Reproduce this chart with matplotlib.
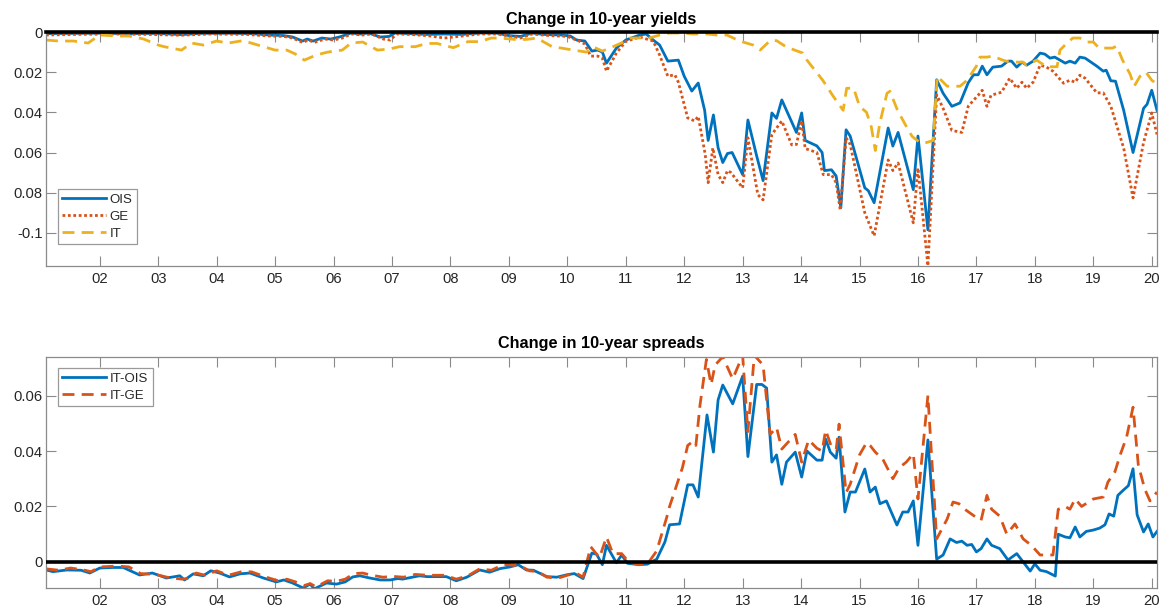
import matplotlib
matplotlib.use('Agg')
import matplotlib.pyplot as plt

plt.rcParams['font.family'] = ['Liberation Sans', 'DejaVu Sans']

# ---------------- data (decimal years, values) ----------------
ois_t = [2001.08, 2001.5, 2002.0, 2002.5, 2003.0, 2003.4, 2003.7, 2004.2, 2004.6, 2004.9,
         2005.15, 2005.3, 2005.47, 2005.55, 2005.65, 2005.8, 2005.95, 2006.1, 2006.3, 2006.45,
         2006.6, 2006.8, 2006.95, 2007.05, 2007.3, 2007.6, 2007.9, 2008.2, 2008.5, 2008.8,
         2009.0, 2009.2, 2009.4, 2009.6, 2009.9, 2010.05, 2010.16, 2010.3, 2010.42, 2010.52,
         2010.6, 2010.67, 2010.84, 2011.0, 2011.24, 2011.35, 2011.47, 2011.58, 2011.72, 2011.9,
         2012.0, 2012.13, 2012.24, 2012.35, 2012.41, 2012.5, 2012.58, 2012.66, 2012.74, 2012.82,
         2013.0, 2013.09, 2013.24, 2013.35, 2013.5, 2013.58, 2013.67, 2013.92, 2014.01, 2014.07,
         2014.27, 2014.36, 2014.4, 2014.52, 2014.6, 2014.68, 2014.77, 2014.84, 2015.09, 2015.15,
         2015.25, 2015.49, 2015.57, 2015.66, 2015.92, 2016.0, 2016.17, 2016.32, 2016.43, 2016.58,
         2016.72, 2016.86, 2016.95, 2017.03, 2017.1, 2017.18, 2017.28, 2017.43, 2017.54, 2017.6,
         2017.69, 2017.78, 2017.86, 2017.97, 2018.09, 2018.17, 2018.26, 2018.34, 2018.52, 2018.6,
         2018.69, 2018.77, 2018.86, 2019.06, 2019.17, 2019.22, 2019.3, 2019.38, 2019.52, 2019.68,
         2019.86, 2019.92, 2020.0, 2020.09]
ois_v = [-0.0008, -0.0007, -0.0006, -0.0008, -0.0007, -0.0013, -0.0007, -0.0006, -0.0008, -0.0015,
         -0.0018, -0.0025, -0.0045, -0.0035, -0.0045, -0.003, -0.0035, -0.0025, -0.0005, -0.001,
         -0.0005, -0.0025, -0.0022, -0.0005, -0.0008, -0.0012, -0.001, -0.0012, -0.0005, -0.0006,
         -0.0018, -0.0022, -0.0005, -0.0012, -0.0015, -0.002, -0.004, -0.0045, -0.0095, -0.009,
         -0.010, -0.0155, -0.008, -0.004, -0.0015, -0.001, -0.004, -0.0065, -0.0145, -0.014,
         -0.022, -0.0294, -0.0254, -0.039, -0.054, -0.0413, -0.0576, -0.065, -0.0605, -0.060,
         -0.071, -0.0438, -0.0617, -0.074, -0.0403, -0.043, -0.0338, -0.050, -0.0403, -0.054,
         -0.0567, -0.060, -0.069, -0.0686, -0.0717, -0.0875, -0.0487, -0.0518, -0.0776, -0.079,
         -0.085, -0.0478, -0.0568, -0.050, -0.0785, -0.0518, -0.0985, -0.0238, -0.0305, -0.037,
         -0.0353, -0.0253, -0.0213, -0.0213, -0.017, -0.0213, -0.0175, -0.017, -0.0145, -0.0145,
         -0.0175, -0.015, -0.0165, -0.0145, -0.0105, -0.011, -0.013, -0.0125, -0.0155, -0.0145,
         -0.0155, -0.0125, -0.013, -0.017, -0.0195, -0.019, -0.0243, -0.0245, -0.039, -0.060,
         -0.038, -0.036, -0.029, -0.039]

ge_t = [2001.08, 2001.6, 2002.2, 2002.8, 2003.4, 2003.9, 2004.5, 2004.9, 2005.15, 2005.3,
        2005.47, 2005.57, 2005.67, 2005.85, 2006.0, 2006.15, 2006.3, 2006.5, 2006.65, 2006.85,
        2006.97, 2007.08, 2007.3, 2007.6, 2007.9, 2008.2, 2008.5, 2008.8, 2009.0, 2009.2,
        2009.4, 2009.7, 2010.0, 2010.2, 2010.3, 2010.4, 2010.52, 2010.6, 2010.67, 2010.84,
        2011.0, 2011.24, 2011.47, 2011.58, 2011.72, 2011.84, 2011.9, 2012.06, 2012.18, 2012.24,
        2012.36, 2012.41, 2012.49, 2012.58, 2012.66, 2012.74, 2012.8, 2013.0, 2013.09, 2013.26,
        2013.35, 2013.5, 2013.67, 2013.84, 2013.92, 2014.01, 2014.07, 2014.27, 2014.38, 2014.52,
        2014.6, 2014.67, 2014.77, 2014.84, 2015.09, 2015.25, 2015.49, 2015.57, 2015.66, 2015.92,
        2016.0, 2016.17, 2016.32, 2016.43, 2016.58, 2016.75, 2016.86, 2016.95, 2017.03, 2017.1,
        2017.18, 2017.25, 2017.43, 2017.57, 2017.69, 2017.78, 2017.86, 2017.97, 2018.09, 2018.2,
        2018.31, 2018.49, 2018.6, 2018.69, 2018.77, 2018.86, 2019.06, 2019.17, 2019.3, 2019.52,
        2019.68, 2019.86, 2020.0, 2020.09]
ge_v = [-0.0015, -0.0012, -0.001, -0.0012, -0.0016, -0.001, -0.0012, -0.002, -0.0022, -0.003,
        -0.0052, -0.004, -0.0052, -0.0035, -0.004, -0.003, -0.001, -0.0015, -0.001, -0.0035,
        -0.004, -0.001, -0.0012, -0.0018, -0.003, -0.002, -0.001, -0.001, -0.002, -0.003,
        -0.001, -0.0018, -0.0022, -0.0045, -0.006, -0.012, -0.012, -0.013, -0.0195, -0.0105,
        -0.0047, -0.0025, -0.0045, -0.0115, -0.022, -0.0213, -0.025, -0.0428, -0.0443, -0.042,
        -0.061, -0.075, -0.0577, -0.071, -0.075, -0.069, -0.070, -0.0776, -0.0527, -0.081,
        -0.0836, -0.051, -0.0443, -0.0562, -0.056, -0.0443, -0.058, -0.060, -0.071, -0.071,
        -0.075, -0.0886, -0.0527, -0.056, -0.090, -0.1015, -0.0637, -0.069, -0.0652, -0.095,
        -0.0677, -0.1164, -0.0313, -0.038, -0.049, -0.050, -0.037, -0.034, -0.0315, -0.029,
        -0.037, -0.0315, -0.030, -0.023, -0.028, -0.025, -0.028, -0.025, -0.0165, -0.0175,
        -0.0195, -0.0255, -0.024, -0.025, -0.0215, -0.023, -0.0303, -0.0303, -0.037, -0.0578,
        -0.0826, -0.055, -0.0403, -0.051]

it_t = [2001.08, 2001.3, 2001.55, 2001.8, 2002.0, 2002.3, 2002.5, 2002.75, 2003.0, 2003.1,
        2003.4, 2003.57, 2003.77, 2004.0, 2004.2, 2004.45, 2004.8, 2005.0, 2005.2, 2005.35,
        2005.5, 2005.7, 2005.9, 2006.15, 2006.3, 2006.5, 2006.75, 2006.95, 2007.13, 2007.4,
        2007.6, 2007.77, 2007.94, 2008.05, 2008.3, 2008.5, 2008.7, 2008.85, 2009.1, 2009.3,
        2009.48, 2009.75, 2009.9, 2010.1, 2010.33, 2010.45, 2010.6, 2010.73, 2011.0, 2011.07,
        2011.4, 2011.58, 2011.75, 2011.98, 2012.15, 2012.4, 2012.55, 2012.73, 2012.95, 2013.18,
        2013.3, 2013.47, 2013.58, 2013.75, 2014.03, 2014.1, 2014.37, 2014.55, 2014.72, 2014.78,
        2014.9, 2015.0, 2015.12, 2015.2, 2015.27, 2015.35, 2015.47, 2015.52, 2015.65, 2015.8,
        2015.9, 2016.03, 2016.15, 2016.26, 2016.33, 2016.5, 2016.72, 2016.84, 2017.0, 2017.06,
        2017.18, 2017.28, 2017.45, 2017.57, 2017.8, 2017.86, 2018.03, 2018.2, 2018.38, 2018.43,
        2018.55, 2018.65, 2018.77, 2018.9, 2019.0, 2019.1, 2019.33, 2019.4, 2019.5, 2019.63,
        2019.7, 2019.8, 2019.9, 2020.0, 2020.09]
it_v = [-0.004, -0.0045, -0.0045, -0.0055, -0.0015, -0.002, -0.002, -0.0035, -0.0065, -0.0073,
        -0.009, -0.0055, -0.0065, -0.0045, -0.0055, -0.0043, -0.0073, -0.009, -0.009, -0.011,
        -0.014, -0.0115, -0.010, -0.009, -0.0055, -0.005, -0.009, -0.0085, -0.0073, -0.0073,
        -0.0057, -0.0057, -0.007, -0.0078, -0.0048, -0.0048, -0.003, -0.003, -0.0037, -0.0037,
        -0.003, -0.0075, -0.008, -0.009, -0.010, -0.0075, -0.0095, -0.008, -0.0045, -0.003,
        -0.003, -0.0015, -0.0005, -0.0005, -0.001, -0.001, -0.0015, -0.0015, -0.0045, -0.0065,
        -0.009, -0.0043, -0.0043, -0.0075, -0.0105, -0.014, -0.024, -0.032, -0.039, -0.028,
        -0.028, -0.037, -0.040, -0.047, -0.059, -0.045, -0.0305, -0.0295, -0.039, -0.047,
        -0.052, -0.055, -0.055, -0.054, -0.022, -0.027, -0.027, -0.024, -0.017, -0.0125,
        -0.0125, -0.012, -0.014, -0.015, -0.015, -0.0165, -0.014, -0.0173, -0.0173, -0.009,
        -0.0055, -0.003, -0.003, -0.005, -0.005, -0.008, -0.008, -0.007, -0.014, -0.021,
        -0.027, -0.022, -0.020, -0.024, -0.026]

itois_t = [2001.08, 2001.2, 2001.44, 2001.68, 2001.83, 2002.0, 2002.22, 2002.4, 2002.68, 2002.9,
           2003.14, 2003.37, 2003.45, 2003.6, 2003.77, 2003.9, 2004.05, 2004.22, 2004.4, 2004.57,
           2004.8, 2005.02, 2005.15, 2005.3, 2005.48, 2005.6, 2005.67, 2005.88, 2006.05, 2006.2,
           2006.33, 2006.45, 2006.62, 2006.8, 2006.97, 2007.1, 2007.18, 2007.47, 2007.6, 2007.93,
           2008.1, 2008.28, 2008.5, 2008.67, 2008.85, 2009.02, 2009.16, 2009.3, 2009.42, 2009.65,
           2009.82, 2010.0, 2010.12, 2010.27, 2010.42, 2010.5, 2010.6, 2010.67, 2010.84, 2010.93,
           2011.03, 2011.23, 2011.37, 2011.53, 2011.67, 2011.75, 2011.92, 2012.06, 2012.15, 2012.24,
           2012.39, 2012.5, 2012.58, 2012.66, 2012.83, 2013.0, 2013.09, 2013.24, 2013.33, 2013.41,
           2013.5, 2013.58, 2013.67, 2013.75, 2013.9, 2014.01, 2014.1, 2014.27, 2014.36, 2014.42,
           2014.5, 2014.6, 2014.65, 2014.75, 2014.84, 2014.93, 2015.09, 2015.18, 2015.27, 2015.35,
           2015.46, 2015.64, 2015.74, 2015.83, 2015.92, 2016.0, 2016.17, 2016.32, 2016.43, 2016.55,
           2016.66, 2016.75, 2016.84, 2016.92, 2017.0, 2017.08, 2017.18, 2017.26, 2017.4, 2017.54,
           2017.69, 2017.8, 2017.92, 2018.0, 2018.09, 2018.2, 2018.35, 2018.4, 2018.52, 2018.6,
           2018.69, 2018.77, 2018.88, 2019.0, 2019.11, 2019.2, 2019.27, 2019.35, 2019.42, 2019.52,
           2019.6, 2019.68, 2019.75, 2019.86, 2019.94, 2020.02, 2020.09]
itois_v = [-0.0029, -0.0035, -0.0029, -0.003, -0.004, -0.0022, -0.002, -0.002, -0.0047, -0.004,
           -0.0058, -0.005, -0.0065, -0.0043, -0.005, -0.0032, -0.004, -0.0054, -0.0043, -0.004,
           -0.0058, -0.0072, -0.0065, -0.0076, -0.0094, -0.008, -0.0097, -0.0076, -0.008, -0.0072,
           -0.0054, -0.005, -0.0058, -0.0065, -0.0065, -0.006, -0.0062, -0.005, -0.0053, -0.0053,
           -0.0068, -0.0055, -0.0029, -0.0037, -0.0024, -0.0018, -0.001, -0.0029, -0.003, -0.0053,
           -0.0055, -0.0046, -0.0042, -0.006, 0.0032, 0.0028, -0.001, 0.006, -0.0003, 0.0025,
           -0.0005, -0.001, -0.0008, 0.001, 0.0072, 0.0134, 0.0137, 0.0278, 0.0278, 0.0234,
           0.053, 0.0396, 0.0584, 0.0638, 0.057, 0.067, 0.038, 0.064, 0.064, 0.0627,
           0.036, 0.0386, 0.028, 0.036, 0.0396, 0.0306, 0.040, 0.0367, 0.0367, 0.0443,
           0.0396, 0.0374, 0.045, 0.018, 0.0252, 0.0252, 0.0335, 0.0252, 0.027, 0.021,
           0.022, 0.0133, 0.018, 0.018, 0.022, 0.006, 0.044, 0.001, 0.0025, 0.0083,
           0.007, 0.0075, 0.006, 0.0063, 0.0036, 0.0048, 0.0083, 0.006, 0.0048, 0.0007,
           0.003, 0.0, -0.0033, -0.0007, -0.003, -0.0035, -0.0051, 0.010, 0.009, 0.0087,
           0.0126, 0.009, 0.011, 0.0115, 0.0122, 0.0134, 0.0173, 0.0165, 0.024, 0.026,
           0.0275, 0.0336, 0.017, 0.0108, 0.0137, 0.009, 0.011]

itge_t = [2001.08, 2001.3, 2001.5, 2001.7, 2001.85, 2002.0, 2002.3, 2002.5, 2002.7, 2002.95,
          2003.15, 2003.4, 2003.5, 2003.65, 2003.8, 2004.0, 2004.2, 2004.45, 2004.6, 2004.85,
          2005.05, 2005.2, 2005.35, 2005.5, 2005.6, 2005.7, 2005.9, 2006.05, 2006.2, 2006.35,
          2006.5, 2006.65, 2006.85, 2007.0, 2007.2, 2007.4, 2007.6, 2007.9, 2008.1, 2008.3,
          2008.5, 2008.7, 2008.9, 2009.0, 2009.2, 2009.35, 2009.5, 2009.65, 2009.85, 2010.0,
          2010.15, 2010.27, 2010.4, 2010.55, 2010.67, 2010.78, 2010.93, 2011.05, 2011.23, 2011.37,
          2011.53, 2011.7, 2011.75, 2011.97, 2012.06, 2012.15, 2012.2, 2012.27, 2012.38, 2012.46,
          2012.53, 2012.66, 2012.83, 2013.0, 2013.09, 2013.2, 2013.35, 2013.47, 2013.58, 2013.67,
          2013.9, 2014.01, 2014.13, 2014.27, 2014.36, 2014.42, 2014.52, 2014.6, 2014.65, 2014.77,
          2014.84, 2015.0, 2015.12, 2015.18, 2015.27, 2015.4, 2015.57, 2015.68, 2015.8, 2015.92,
          2016.0, 2016.17, 2016.32, 2016.5, 2016.6, 2016.7, 2016.8, 2017.0, 2017.08, 2017.18,
          2017.26, 2017.4, 2017.52, 2017.66, 2017.8, 2017.94, 2018.09, 2018.2, 2018.31, 2018.4,
          2018.52, 2018.6, 2018.69, 2018.8, 2019.0, 2019.17, 2019.25, 2019.37, 2019.46, 2019.57,
          2019.68, 2019.77, 2019.88, 2019.97, 2020.09]
itge_v = [-0.0025, -0.003, -0.0022, -0.0028, -0.0035, -0.0018, -0.0015, -0.0018, -0.0042, -0.0045,
          -0.0055, -0.0062, -0.006, -0.004, -0.0048, -0.0032, -0.0048, -0.0034, -0.0036, -0.0055,
          -0.0068, -0.0062, -0.0072, -0.0085, -0.0078, -0.009, -0.0068, -0.007, -0.0062, -0.0042,
          -0.004, -0.0048, -0.0055, -0.0052, -0.0055, -0.0045, -0.0048, -0.0048, -0.0062, -0.005,
          -0.0025, -0.003, -0.001, -0.001, -0.0015, -0.0032, -0.0035, -0.0055, -0.0058, -0.0048,
          -0.004, -0.0055, 0.0055, 0.0015, 0.009, 0.003, 0.003, 0.0, -0.001, -0.0008,
          0.004, 0.016, 0.020, 0.034, 0.042, 0.0435, 0.042, 0.0565, 0.073, 0.064,
          0.071, 0.074, 0.066, 0.0745, 0.047, 0.0745, 0.071, 0.046, 0.0485, 0.0407,
          0.046, 0.036, 0.044, 0.041, 0.040, 0.0475, 0.0415, 0.0405, 0.0497, 0.025,
          0.028, 0.0386, 0.043, 0.042, 0.0396, 0.037, 0.030, 0.034, 0.036, 0.039,
          0.0227, 0.060, 0.0083, 0.0155, 0.0216, 0.021, 0.019, 0.016, 0.015, 0.024,
          0.019, 0.0165, 0.010, 0.0137, 0.0083, 0.006, 0.0025, 0.0025, 0.0025, 0.019,
          0.020, 0.019, 0.0227, 0.020, 0.0227, 0.0234, 0.0288, 0.0325, 0.0386, 0.045,
          0.0558, 0.035, 0.0263, 0.022, 0.0252]

year_ticks = list(range(2002, 2021))
year_labels = ['%02d' % (y % 100) for y in year_ticks]
top_yticks = [-0.1, -0.08, -0.06, -0.04, -0.02, 0]
top_ylabels = ['-0.1', '0.08', '0.06', '0.04', '0.02', '0']
bot_yticks = [0, 0.02, 0.04, 0.06]
bot_ylabels = ['0', '0.02', '0.04', '0.06']

# ---------------- style ----------------
BLUE = '#0072BD'
ORANGE = '#D95319'
YELLOW = '#EDB120'
TXT = '#262626'
SPINE = '#8a8a8a'
LW = 2.0
DASH = (4.3, 2.6)
DOT = (1.0, 0.95)

fig = plt.figure(figsize=(11.63, 6.11), dpi=100)
W, H = 1163, 611
ax1 = fig.add_axes([46 / W, 1 - 266 / H, 1111 / W, 234 / H])
ax2 = fig.add_axes([46 / W, 1 - 588 / H, 1111 / W, 231 / H])

l1, = ax1.plot(ois_t, ois_v, color=BLUE, lw=LW, label='OIS')
l2, = ax1.plot(ge_t, ge_v, color=ORANGE, lw=LW, linestyle=(0, DOT), label='GE',
               dash_capstyle='butt')
l3, = ax1.plot(it_t, it_v, color=YELLOW, lw=LW, linestyle=(0, DASH), label='IT')
ax1.axhline(0, color='black', lw=2.6, clip_on=False, zorder=5)

m1, = ax2.plot(itois_t, itois_v, color=BLUE, lw=LW, label='IT-OIS')
m2, = ax2.plot(itge_t, itge_v, color=ORANGE, lw=LW, linestyle=(0, DASH), label='IT-GE')
ax2.axhline(0, color='black', lw=2.6, zorder=5)

for ax in (ax1, ax2):
    ax.set_xlim(2001.08, 2020.09)
    ax.set_xticks(year_ticks)
    ax.set_xticklabels(year_labels)
    ax.tick_params(direction='in', length=7, width=0.8, top=True, right=True,
                   color=SPINE, labelcolor=TXT, labelsize=10.6)
    ax.tick_params(axis='x', pad=4.5)
    ax.tick_params(axis='y', pad=2.5)
    for s in ax.spines.values():
        s.set_color(SPINE)
        s.set_linewidth(0.9)

ax1.set_ylim(-0.1165, 0)
ax1.set_yticks(top_yticks)
ax1.set_yticklabels(top_ylabels)
ax2.set_ylim(-0.0094, 0.0739)
ax2.set_yticks(bot_yticks)
ax2.set_yticklabels(bot_ylabels)

ax1.set_title('Change in 10-year yields', fontsize=11.7, fontweight='bold', color='black', pad=6)
ax2.set_title('Change in 10-year spreads', fontsize=11.7, fontweight='bold', color='black', pad=6.5)

leg_kw = dict(fontsize=9.5, fancybox=False, framealpha=1, edgecolor='#9a9a9a',
              handlelength=3.3, handletextpad=0.3, labelspacing=0.36, borderpad=0.33,
              borderaxespad=0)
lg1 = ax1.legend(handles=[l1, l2, l3], loc='lower left', bbox_to_anchor=(0.0108, 0.094), **leg_kw)
lg2 = ax2.legend(handles=[m1, m2], loc='upper left', bbox_to_anchor=(0.0108, 0.952), **leg_kw)
for lg in (lg1, lg2):
    lg.get_frame().set_linewidth(0.9)
    for t in lg.get_texts():
        t.set_color(TXT)

fig.savefig('out.png', dpi=100)
